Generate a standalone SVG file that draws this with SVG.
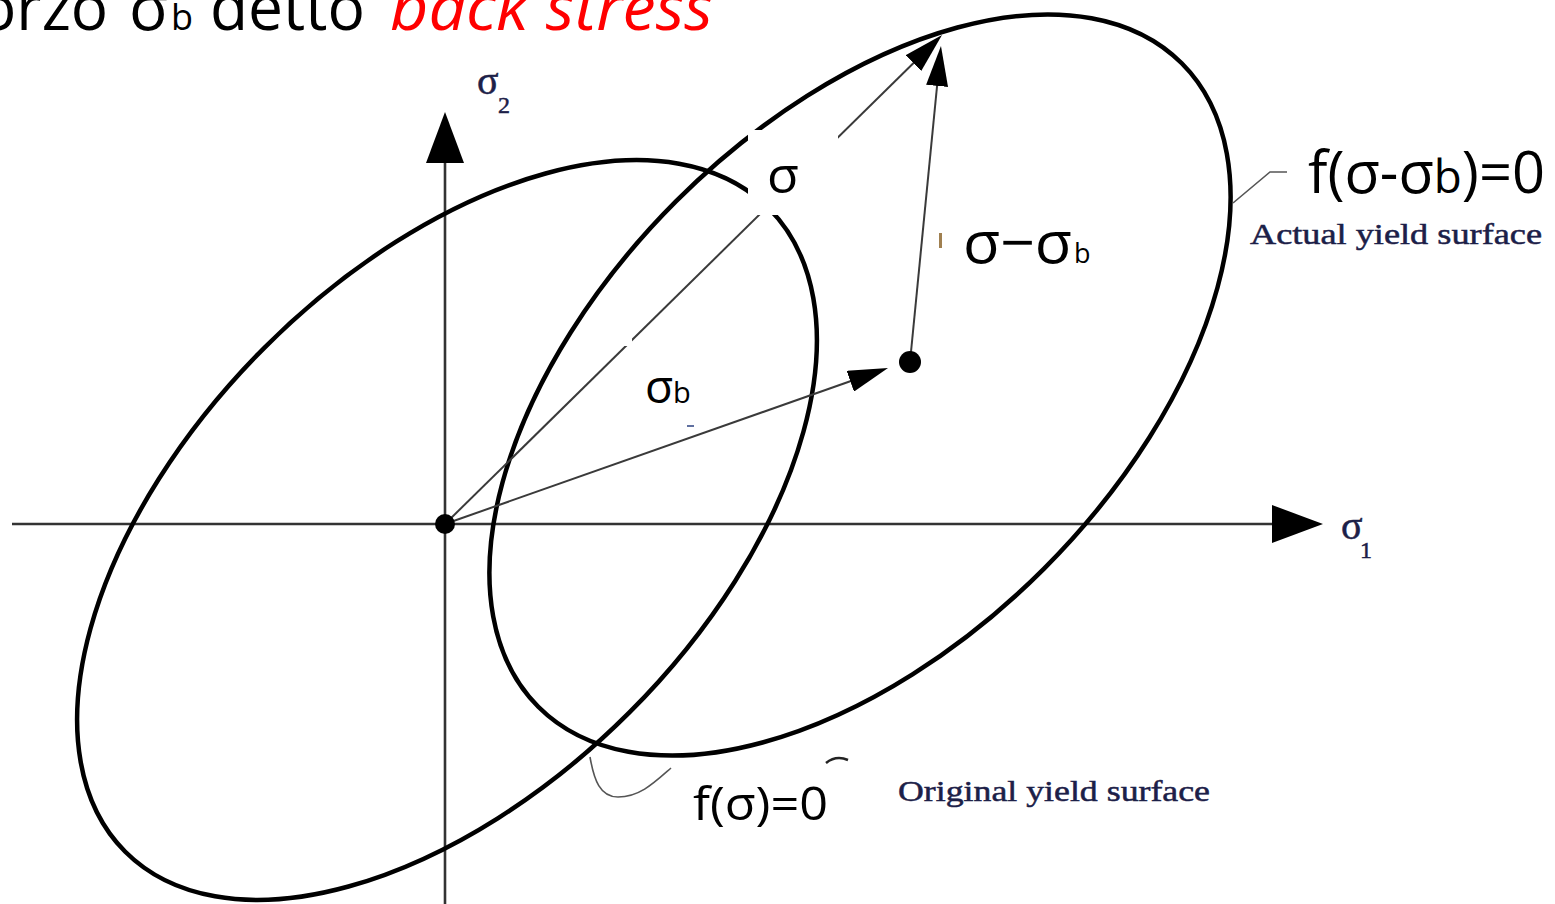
<svg xmlns="http://www.w3.org/2000/svg" width="1555" height="904" viewBox="0 0 1555 904">
<style>
.ell{fill:none;stroke:#000;stroke-width:4.5}
.axis{stroke:#333;stroke-width:2.6;fill:none}
.vec{stroke:#3a3a3a;stroke-width:2;fill:none}
.lead{stroke:#555;stroke-width:1.6;fill:none}
.cal{font-family:"Open Sans","Noto Sans","Liberation Sans",sans-serif;fill:#000}
.ser{font-family:"Liberation Serif","DejaVu Serif",serif;fill:#1c2048;stroke:#1c2048;stroke-width:0.5}
</style>
<defs>
<marker id="head" markerUnits="userSpaceOnUse" markerWidth="40" markerHeight="22" viewBox="0 0 40 22" refX="30" refY="11" orient="auto">
<path d="M0,0 L40,11 L0,22 z" fill="#000"/>
</marker>
</defs>
<rect width="1555" height="904" fill="#fff"/>

<g id="title">
<text class="cal" x="-21" y="30" font-size="64" textLength="129" lengthAdjust="spacingAndGlyphs">orzo</text>
<text class="cal" x="129" y="30" font-size="64">σ</text>
<text class="cal" x="171" y="30" font-size="36">b</text>
<text class="cal" x="210" y="30" font-size="64" textLength="155" lengthAdjust="spacingAndGlyphs">detto</text>
<text class="cal" x="390" y="30" font-size="64" font-style="italic" style="fill:#ff0000" textLength="323" lengthAdjust="spacingAndGlyphs">back stress</text>
</g>

<g id="axes">
<line class="axis" x1="12" y1="524" x2="1276" y2="524"/>
<polygon points="1272,505 1323,524 1272,543" fill="#000"/>
<line class="axis" x1="445" y1="904" x2="445" y2="158"/>
<polygon points="445,112 426,163 464,163" fill="#000"/>
</g>

<g id="original-yield-surface">
<ellipse class="ell" cx="447" cy="530" rx="455" ry="258" transform="rotate(-45 447 530)"/>
</g>
<g id="actual-yield-surface">
<ellipse class="ell" cx="860" cy="385" rx="455" ry="260" transform="rotate(-45 860 385)"/>
</g>

<g id="connectors">
<line class="vec" x1="445" y1="524" x2="934.9" y2="42" marker-end="url(#head)"/>
<line class="vec" x1="445" y1="524" x2="878.6" y2="371.3" marker-end="url(#head)"/>
<line class="vec" x1="910" y1="362" x2="940" y2="56" marker-end="url(#head)"/>
<path class="lead" d="M1233,203 L1270,172 L1287,172"/>
<path class="lead" d="M590,757 C594,780 600,797 618,797 C640,797 655,782 671,768"/>
<path d="M826,763 Q836,755 848,760" stroke="#222" stroke-width="2.5" fill="none"/>
</g>

<g id="origin"><circle cx="445" cy="524" r="10" fill="#000"/></g>
<g id="backstress-point"><circle cx="910" cy="362" r="11" fill="#000"/></g>

<g id="label-sigma">
<rect x="748" y="130" width="90" height="85" fill="#fff"/>
<text class="cal" x="767" y="193" font-size="52">σ</text>
</g>
<g id="label-sigma-minus-sigmab">
<rect x="939" y="233" width="3" height="15" fill="#a08050"/>
<text class="cal" x="963" y="263" font-size="58" textLength="109" lengthAdjust="spacingAndGlyphs">σ−σ</text>
<text class="cal" x="1074" y="263" font-size="27">b</text>
</g>
<g id="label-sigmab">
<rect x="620" y="334" width="12" height="12" fill="#fff"/>
<rect x="687" y="425" width="7" height="2" fill="#6070a0"/>
<text class="cal" x="645" y="403" font-size="46">σ</text>
<text class="cal" x="673" y="403" font-size="29">b</text>
</g>
<g id="label-f-actual">
<text class="cal" x="1308" y="193" font-size="58" textLength="237" lengthAdjust="spacingAndGlyphs">f(σ-σ<tspan font-size="46">b</tspan>)=0</text>
<text class="ser" x="1250" y="244" font-size="30" textLength="292" lengthAdjust="spacingAndGlyphs">Actual yield surface</text>
</g>
<g id="label-f-original">
<text class="cal" x="693" y="820" font-size="46" textLength="135" lengthAdjust="spacingAndGlyphs">f(σ)=0</text>
<text class="ser" x="898" y="801" font-size="30" textLength="312" lengthAdjust="spacingAndGlyphs">Original yield surface</text>
</g>
<g id="label-sigma2">
<text class="ser" x="477" y="94" font-size="40">σ</text>
<text class="ser" x="498" y="113" font-size="24">2</text>
</g>
<g id="label-sigma1">
<text class="ser" x="1341" y="539" font-size="40">σ</text>
<text class="ser" x="1360" y="558" font-size="24">1</text>
</g>
</svg>
